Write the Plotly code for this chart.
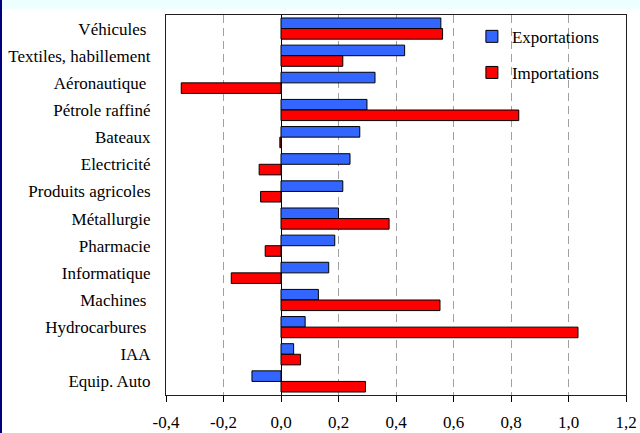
import plotly.graph_objects as go

categories = ["Véhicules\u00a0", "Textiles, habillement", "Aéronautique\u00a0", "Pétrole raffiné",
              "Bateaux", "Electricité", "Produits agricoles", "Métallurgie", "Pharmacie",
              "Informatique", "Machines\u00a0", "Hydrocarbures\u00a0", "IAA", "Equip. Auto"]
exportations = [0.556, 0.430, 0.327, 0.299, 0.274, 0.240, 0.215, 0.200, 0.187, 0.166, 0.130, 0.084, 0.044, -0.101]
importations = [0.562, 0.215, -0.347, 0.827, -0.004, -0.076, -0.071, 0.376, -0.055, -0.173, 0.553, 1.033, 0.068, 0.294]
tick_vals = [-0.4, -0.2, 0.0, 0.2, 0.4, 0.6, 0.8, 1.0, 1.2]
tick_text = ["-0,4", "-0,2", "0,0", "0,2", "0,4", "0,6", "0,8", "1,0", "1,2"]

FONT = "Times New Roman"

fig = go.Figure()
fig.add_trace(go.Bar(y=categories, x=exportations, orientation="h", name="Exportations",
                     legendgroup="a",
                     marker=dict(color="#3366FF", line=dict(color="#000000", width=1))))
fig.add_trace(go.Bar(y=categories, x=importations, orientation="h", name="Importations",
                     legendgroup="b",
                     marker=dict(color="#FF0000", line=dict(color="#000000", width=1))))

fig.update_layout(
    width=640, height=433,
    margin=dict(l=166, r=14, t=15, b=38, autoexpand=False),
    paper_bgcolor="white", plot_bgcolor="white",
    barmode="group", bargap=0.22, bargroupgap=0.0,
    font=dict(family=FONT, size=16, color="black"),
    showlegend=True,
    legend=dict(x=0.665, y=0.99, xanchor="left", yanchor="top", bgcolor="rgba(0,0,0,0)",
                font=dict(family=FONT, size=17), tracegroupgap=11, traceorder="grouped",
                itemwidth=30),
    xaxis=dict(range=[-0.4, 1.2], tickvals=tick_vals, ticktext=tick_text,
               showgrid=True, gridcolor="#A0A0A0", griddash="8px,5px", gridwidth=1,
               zeroline=True, zerolinecolor="black", zerolinewidth=1,
               showline=True, linecolor="#202020", linewidth=1, mirror=True,
               ticks="outside", ticklen=6, tickcolor="black", automargin=False,
               ticklabelstandoff=6,
               tickfont=dict(family=FONT, size=17)),
    yaxis=dict(autorange="reversed", showgrid=False, showline=True, linecolor="#202020",
               linewidth=1, mirror=True, ticks="", automargin=False,
               ticklabelstandoff=11,
               tickfont=dict(family=FONT, size=17)),
    shapes=[
        dict(type="rect", xref="paper", yref="paper", x0=-166/460, x1=1+14/460,
             y0=1+6/380, y1=1+15/380, fillcolor="#EEFFFF", line=dict(width=0), layer="below"),
        dict(type="rect", xref="paper", yref="paper", x0=-166/460, x1=-164/460,
             y0=-38/380, y1=1+15/380, fillcolor="#00007F", line=dict(width=0), layer="above"),
    ],
)

fig.write_html("out.html", config={"displayModeBar": False},
               post_script="document.body.style.margin='0';document.body.style.padding='0';")
